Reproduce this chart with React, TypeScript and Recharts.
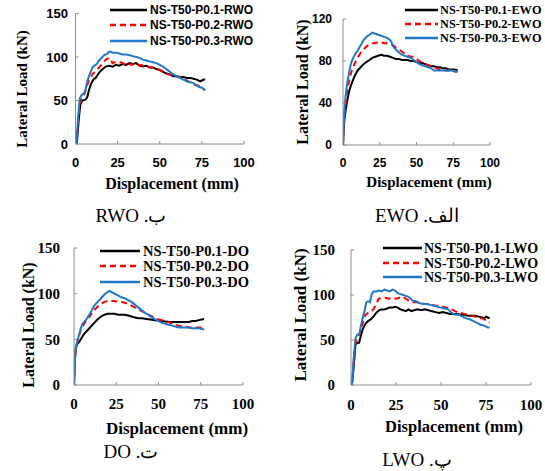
import React from 'react';
import { LineChart, Line, XAxis, YAxis, Legend, Label } from 'recharts';

type Pt = [number, number];

const xTicks = [0, 25, 50, 75, 100];
const seriesColors = ['#000000', '#ff0000', '#1f78c8'];
const seriesDash: (string | undefined)[] = [undefined, '6 4', undefined];

// ---------- RWO ----------
const rwoNames = ['NS-T50-P0.1-RWO', 'NS-T50-P0.2-RWO', 'NS-T50-P0.3-RWO'];
const rwoYTicks = [0, 50, 100, 150];
const rwoP01: Pt[] = [[0.8,0],[1.8,25],[2.8,45],[4,50],[6,51],[7,54],[8,62],[9,68],[10,72],[11,75],[12,76],[13,79],[14,82],[15,84],[16,86],[18,89],[20,90],[22,89],[24,91],[26,90],[28,92],[30,91],[32,93],[34,92],[36,93],[38,90],[40,89],[42,90],[44,88],[46,88],[48,86],[50,85],[52,83],[54,81],[56,80],[58,78],[60,78],[62,77],[64,77],[66,76],[68,76],[70,75],[72,74],[74,72],[75,73],[76,74],[77,74]];
const rwoP02: Pt[] = [[0.5,0],[1.5,25],[2.5,45],[3.5,52],[5,56],[6,62],[7,68],[8,73],[9,76],[10,80],[11,82],[12,84],[13,86],[14,88],[15,90],[16,93],[17,95],[18,97],[19,98],[20,99],[21,96],[22,93],[23,94],[25,93],[27,94],[29,92],[31,93],[33,91],[35,92],[37,90],[39,91],[41,89],[43,89],[45,88],[47,87],[49,86],[51,84],[53,82],[55,80],[57,79],[59,78],[61,77],[63,76],[65,74],[67,72],[69,70],[71,68],[73,67],[75,65],[76,63],[77,62]];
const rwoP03: Pt[] = [[0.5,0],[1.5,30],[2.5,52],[3.5,56],[5,58],[6,63],[7,72],[8,78],[9,83],[10,88],[11,90],[12,91],[13,93],[14,96],[15,98],[16,100],[17,102],[18,103],[19,104],[20,106],[21,106],[22,105],[24,105],[26,104],[28,103],[30,103],[32,102],[34,101],[36,100],[38,99],[40,97],[42,96],[44,95],[46,94],[48,93],[50,91],[52,89],[54,86],[56,83],[58,80],[60,78],[62,76],[64,74],[66,72],[68,71],[70,70],[72,67],[74,65],[75,65],[76,63],[77,62]];

// ---------- EWO ----------
const ewoNames = ['NS-T50-P0.1-EWO', 'NS-T50-P0.2-EWO', 'NS-T50-P0.3-EWO'];
const ewoYTicks = [0, 40, 80, 120];
const ewoP01: Pt[] = [[0,0],[0.5,15],[1,25],[2,35],[3,43],[4,50],[5,55],[6,59],[8,66],[10,71],[12,74],[14,77],[16,79],[18,81],[20,83],[22,84],[24,85],[26,86],[28,85],[30,85],[32,84],[34,83],[36,82],[38,82],[40,81],[42,81],[44,81],[46,80],[48,80],[50,79],[52,78],[54,78],[56,77],[58,76],[60,75],[62,75],[64,74],[66,74],[68,73],[70,73],[72,72],[74,72],[76,72],[78,71]];
const ewoP02: Pt[] = [[0,0],[0.5,18],[1,30],[2,42],[3,52],[4,60],[5,66],[6,71],[8,78],[10,83],[12,88],[14,91],[16,94],[18,96],[20,97],[22,97],[24,98],[26,98],[28,97],[30,97],[32,96],[34,95],[36,93],[38,91],[40,89],[42,87],[44,85],[46,84],[48,84],[50,82],[52,80],[54,78],[56,77],[58,76],[60,75],[62,74],[64,73],[66,72],[68,72],[70,71],[72,71],[74,70],[76,70],[78,70]];
const ewoP03: Pt[] = [[0,0],[0.5,20],[1,35],[2,50],[3,60],[4,68],[5,75],[6,80],[8,86],[10,90],[12,95],[14,100],[16,103],[18,105],[20,107],[22,106],[24,105],[26,104],[28,103],[30,102],[32,100],[33,98],[34,94],[36,91],[38,88],[40,86],[42,85],[44,84],[46,83],[48,81],[50,79],[52,77],[54,76],[56,75],[58,74],[60,73],[62,71],[64,71],[66,71],[68,71],[70,71],[72,71],[74,71],[76,70],[78,70]];

// ---------- DO ----------
const doNames = ['NS-T50-P0.1-DO', 'NS-T50-P0.2-DO', 'NS-T50-P0.3-DO'];
const doYTicks = [0, 50, 100, 150];
const doP01: Pt[] = [[0,0],[0.5,25],[1,40],[2,45],[3,47],[4,50],[5,53],[6,56],[8,60],[10,64],[12,68],[14,72],[16,75],[18,77],[20,78],[22,78],[24,78],[26,77],[28,77],[30,77],[32,76],[34,75],[36,74],[38,73],[40,73],[44,72],[48,71],[52,70],[56,69],[60,69],[64,69],[68,69],[70,70],[72,70],[74,71],[76,72],[77,72]];
const doP02: Pt[] = [[0,0],[0.5,25],[1,40],[2,48],[3,54],[4,60],[5,64],[6,67],[8,72],[10,77],[12,82],[14,86],[16,89],[18,91],[20,92],[22,92],[24,92],[26,91],[28,91],[30,90],[32,89],[34,87],[36,85],[38,83],[40,81],[42,79],[44,77],[46,75],[48,73],[50,72],[52,71],[54,70],[56,69],[58,67],[60,66],[62,65],[64,64],[66,64],[68,63],[70,63],[72,63],[74,63],[76,63],[77,63]];
const doP03: Pt[] = [[0,0],[0.5,25],[1,40],[2,48],[3,55],[4,62],[5,67],[6,69],[7,71],[8,74],[10,80],[12,87],[14,91],[16,95],[18,99],[20,102],[21,103],[22,102],[24,100],[26,98],[28,96],[30,95],[32,93],[34,91],[36,88],[38,85],[40,82],[42,79],[44,77],[46,74],[48,72],[50,70],[52,68],[54,67],[56,66],[58,65],[60,64],[62,63],[64,63],[66,63],[68,63],[70,62],[72,62],[74,62],[76,61],[77,61]];

// ---------- LWO ----------
const lwoNames = ['NS-T50-P0.1-LWO', 'NS-T50-P0.2-LWO', 'NS-T50-P0.3-LWO'];
const lwoYTicks = [0, 50, 100, 150];
const lwoP01: Pt[] = [[0.5,0],[1.5,20],[2.5,45],[3.5,47],[4.5,47],[5.5,55],[6.5,62],[8,68],[9.5,71],[11,73],[12.5,76],[14,80],[15.5,83],[17,84],[18.5,84],[20,85],[21.5,86],[23,86],[24.5,87],[26,86],[27.5,84],[29,83],[30.5,82],[32,84],[33.5,82],[35,83],[37,84],[39,83],[41,84],[43,83],[45,82],[47,81],[49,80],[51,81],[53,80],[55,79],[57,79],[59,79],[61,78],[63,78],[65,77],[67,77],[69,77],[71,76],[73,75],[74,74],[75,76],[76,75],[77,74]];
const lwoP02: Pt[] = [[0.5,0],[1.5,25],[2.5,48],[4,52],[5,58],[6,65],[7,72],[8,78],[9.5,80],[11,82],[12.5,84],[14,90],[15.5,96],[17,96],[19,97],[21,96],[23,97],[25,96],[27,97],[29,98],[31,95],[33,93],[35,92],[37,92],[39,91],[41,90],[43,90],[45,89],[47,88],[49,88],[51,87],[53,86],[55,85],[57,83],[59,81],[61,80],[63,79],[65,78],[67,77],[69,76],[71,75],[73,74],[75,72],[76,70],[77,69]];
const lwoP03: Pt[] = [[0.5,0],[1.5,30],[2.5,52],[3.5,56],[4.5,56],[5.5,66],[6.5,75],[7.5,82],[8.5,92],[9.5,93],[10.5,92],[11.5,101],[12.5,104],[14,104],[15.5,105],[17,104],[18.5,106],[20,105],[21.5,104],[23,106],[24.5,105],[26,102],[27.5,101],[29,100],[30.5,99],[32,98],[34,94],[36,93],[38,91],[40,90],[42,90],[44,89],[46,88],[48,87],[50,86],[52,85],[54,84],[56,80],[58,78],[60,78],[62,76],[64,74],[66,73],[68,71],[70,69],[72,67],[74,66],[76,64],[77,64]];

const SANS = '"Liberation Sans", Arial, sans-serif';
const SERIF = '"Liberation Serif", "Times New Roman", serif';

type Cfg = {
  box: { left: number; top: number; w: number; h: number };
  plot: { l: number; r: number; t: number; b: number };
  yMax: number;
  yTicks: number[];
  tickFont: string;
  tickSize: number;
  yTickRight: number;
  xTickCenterY: number;
  yTitle: { x: number; y: number; size: number };
  xTitle: { x: number; y: number; size: number };
  legend: { x0: number; x1: number; tx: number; rows: number[]; font: string; size: number };
  names: string[];
  series: Pt[][];
};

const XH = 40;
const YW = 50;

function Panel({ cfg }: { cfg: Cfg }) {
  const { box, plot } = cfg;
  const margin = {
    top: plot.t - box.top,
    right: box.left + box.w - plot.r,
    bottom: box.top + box.h - plot.b - XH,
    left: plot.l - box.left - YW,
  };
  const plotW = plot.r - plot.l;
  const plotH = plot.b - plot.t;
  const xLabelDx = cfg.xTitle.x - (plot.l + plotW / 2);
  const xLabelDy = cfg.xTitle.y - (plot.b + XH / 2);
  const yLabelDx = cfg.yTitle.x - (plot.l - YW / 2);
  const yLabelDy = cfg.yTitle.y - (plot.t + plotH / 2);
  const yTickMargin = plot.l + 3 - cfg.yTickRight;
  const xTickMargin = cfg.xTickCenterY - 0.35 * cfg.tickSize - (plot.b - 3);
  const tickStyle = { fontSize: cfg.tickSize, fontFamily: cfg.tickFont, fontWeight: 'bold', fill: '#000' };
  const axisStroke = '#8c8c8c';

  const legendContent = () => (
    <svg width={box.w} height={70} style={{ display: 'block' }}>
      {cfg.names.map((n, i) => {
        const ry = cfg.legend.rows[i] - box.top;
        return (
          <g key={n}>
            <line
              x1={cfg.legend.x0 - box.left}
              x2={cfg.legend.x1 - box.left}
              y1={ry}
              y2={ry}
              stroke={seriesColors[i]}
              strokeWidth={2.5}
              strokeDasharray={seriesDash[i]}
            />
            <text
              x={cfg.legend.tx - box.left}
              y={ry}
              dominantBaseline="central"
              fontFamily={cfg.legend.font}
              fontWeight="bold"
              fontSize={cfg.legend.size}
              fill="#000"
            >
              {n}
            </text>
          </g>
        );
      })}
    </svg>
  );

  return (
    <div style={{ position: 'absolute', left: box.left, top: box.top, width: box.w, height: box.h }}>
      <LineChart width={box.w} height={box.h} margin={margin}>
        <XAxis
          type="number"
          dataKey="x"
          domain={[0, 100]}
          ticks={xTicks}
          interval={0}
          allowDataOverflow
          height={XH}
          tickSize={-3}
          tickMargin={xTickMargin}
          tick={tickStyle}
          axisLine={{ stroke: axisStroke }}
          tickLine={{ stroke: axisStroke }}
        >
          <Label
            value="Displacement (mm)"
            position="center"
            dx={xLabelDx}
            dy={xLabelDy}
            fontFamily={SERIF}
            fontWeight="bold"
            fontSize={cfg.xTitle.size}
            fill="#000"
          />
        </XAxis>
        <YAxis
          type="number"
          domain={[0, cfg.yMax]}
          ticks={cfg.yTicks}
          interval={0}
          allowDataOverflow
          width={YW}
          tickSize={-3}
          tickMargin={yTickMargin}
          tick={tickStyle}
          axisLine={{ stroke: axisStroke }}
          tickLine={{ stroke: axisStroke }}
        >
          <Label
            value="Lateral Load (kN)"
            position="center"
            angle={-90}
            dx={yLabelDx}
            dy={yLabelDy}
            fontFamily={SERIF}
            fontWeight="bold"
            fontSize={cfg.yTitle.size}
            fill="#000"
          />
        </YAxis>
        <Legend
          layout="horizontal"
          verticalAlign="middle"
          align="center"
          content={legendContent}
          wrapperStyle={{ left: 0, top: 0, width: box.w, height: 70 }}
        />
        {cfg.series.map((pts, i) => (
          <Line
            key={cfg.names[i]}
            name={cfg.names[i]}
            data={pts.map(([x, y]) => ({ x, y }))}
            dataKey="y"
            type="linear"
            stroke={seriesColors[i]}
            strokeWidth={2}
            strokeDasharray={seriesDash[i]}
            dot={false}
            activeDot={false}
            isAnimationActive={false}
          />
        ))}
      </LineChart>
    </div>
  );
}

const panels: Cfg[] = [
  {
    box: { left: 0, top: 0, w: 272, h: 200 },
    plot: { l: 75.5, r: 244, t: 13.5, b: 144 },
    yMax: 150,
    yTicks: rwoYTicks,
    tickFont: SANS,
    tickSize: 13,
    yTickRight: 68,
    xTickCenterY: 162,
    yTitle: { x: 22, y: 89, size: 15 },
    xTitle: { x: 172, y: 183, size: 16 },
    legend: { x0: 110, x1: 147, tx: 150, rows: [10, 25, 41], font: SANS, size: 12 },
    names: rwoNames,
    series: [rwoP01, rwoP02, rwoP03],
  },
  {
    box: { left: 272, top: 0, w: 273, h: 200 },
    plot: { l: 343, r: 490, t: 19, b: 145 },
    yMax: 120,
    yTicks: ewoYTicks,
    tickFont: SANS,
    tickSize: 12,
    yTickRight: 332,
    xTickCenterY: 163,
    yTitle: { x: 302, y: 82, size: 16 },
    xTitle: { x: 429, y: 182, size: 15 },
    legend: { x0: 405, x1: 438, tx: 440, rows: [10, 24, 38], font: SERIF, size: 12.3 },
    names: ewoNames,
    series: [ewoP01, ewoP02, ewoP03],
  },
  {
    box: { left: 0, top: 230, w: 272, h: 241 },
    plot: { l: 74, r: 243, t: 248, b: 385 },
    yMax: 150,
    yTicks: doYTicks,
    tickFont: SERIF,
    tickSize: 15,
    yTickRight: 60,
    xTickCenterY: 404,
    yTitle: { x: 28, y: 325, size: 16 },
    xTitle: { x: 177, y: 428, size: 17 },
    legend: { x0: 100, x1: 140, tx: 143, rows: [251, 266, 282], font: SERIF, size: 14.5 },
    names: doNames,
    series: [doP01, doP02, doP03],
  },
  {
    box: { left: 272, top: 230, w: 273, h: 241 },
    plot: { l: 351, r: 531, t: 250, b: 385 },
    yMax: 150,
    yTicks: lwoYTicks,
    tickFont: SERIF,
    tickSize: 15,
    yTickRight: 335,
    xTickCenterY: 405,
    yTitle: { x: 300, y: 315, size: 17 },
    xTitle: { x: 454, y: 426, size: 16.5 },
    legend: { x0: 383, x1: 422, tx: 424, rows: [248, 263, 277], font: SERIF, size: 14 },
    names: lwoNames,
    series: [lwoP01, lwoP02, lwoP03],
  },
];

const captions = [
  { text: 'ب. RWO', x: 131, y: 216 },
  { text: 'الف. EWO', x: 417, y: 216 },
  { text: 'ت. DO', x: 131, y: 452 },
  { text: 'پ. LWO', x: 417, y: 460 },
];

export default function App() {
  return (
    <div style={{ position: 'fixed', left: 0, top: 0, width: 545, height: 471, background: '#fff', overflow: 'hidden' }}>
      {panels.map((p, i) => (
        <Panel key={i} cfg={p} />
      ))}
      {captions.map((c) => (
        <div
          key={c.text}
          dir="rtl"
          style={{
            position: 'absolute',
            left: c.x - 80,
            top: c.y - 12,
            width: 160,
            height: 24,
            lineHeight: '24px',
            textAlign: 'center',
            fontFamily: SERIF,
            fontSize: 19,
            color: '#000',
          }}
        >
          {c.text}
        </div>
      ))}
    </div>
  );
}
